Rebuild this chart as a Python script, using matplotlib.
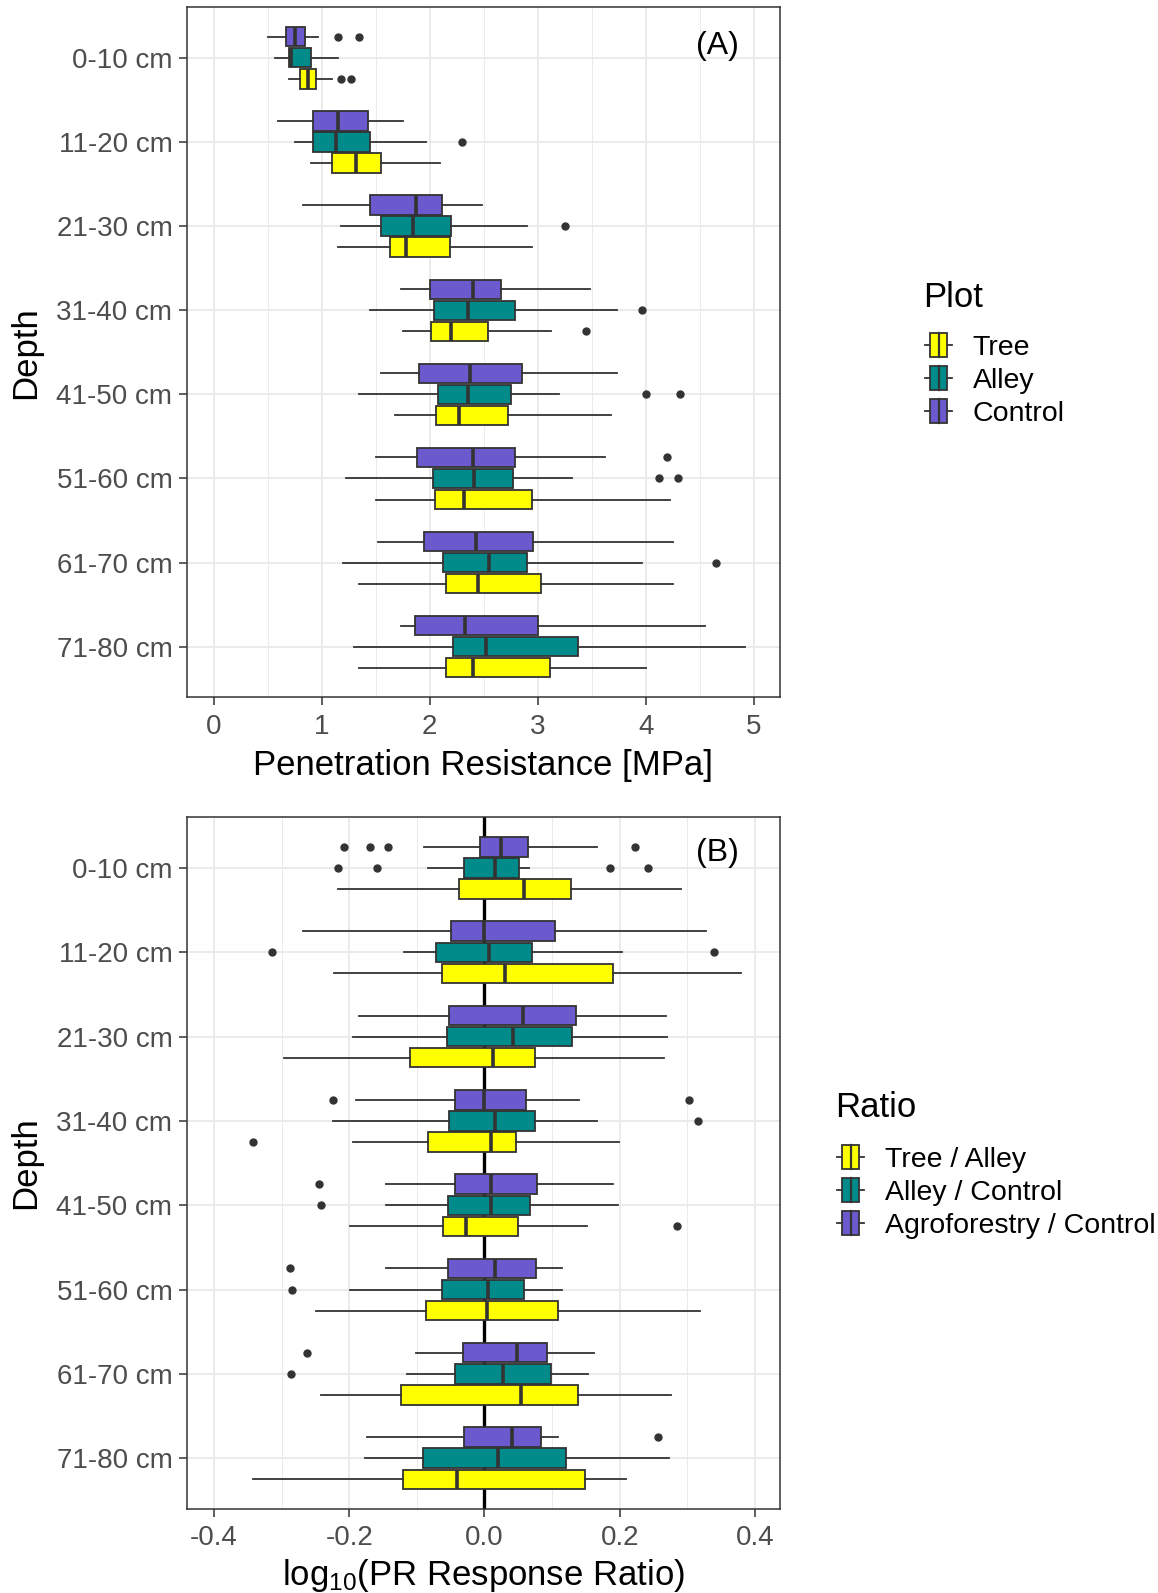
import matplotlib
matplotlib.use('Agg')
import matplotlib.pyplot as plt
from matplotlib.patches import Patch, Rectangle
from matplotlib.lines import Line2D
from matplotlib.legend_handler import HandlerBase

plt.rcParams['font.family'] = ['Liberation Sans', 'DejaVu Sans']
plt.rcParams['mathtext.fontset'] = 'custom'
plt.rcParams['mathtext.rm'] = 'Liberation Sans'
plt.rcParams['mathtext.it'] = 'Liberation Sans:italic'

# ---- data: [whisker low, Q1, median, Q3, whisker high] per depth ----
depths = ['0-10 cm', '11-20 cm', '21-30 cm', '31-40 cm',
          '41-50 cm', '51-60 cm', '61-70 cm', '71-80 cm']

plot_names = ['Tree', 'Alley', 'Control']
ratio_names = ['Tree / Alley', 'Alley / Control', 'Agroforestry / Control']

# Panel A: penetration resistance [MPa]
pr_tree = [[0.70, 0.80, 0.87, 0.95, 1.10],
           [0.90, 1.10, 1.32, 1.55, 2.10],
           [1.15, 1.63, 1.78, 2.19, 2.95],
           [1.75, 2.01, 2.20, 2.54, 3.12],
           [1.68, 2.06, 2.27, 2.72, 3.68],
           [1.50, 2.05, 2.32, 2.95, 4.22],
           [1.35, 2.15, 2.45, 3.03, 4.25],
           [1.35, 2.15, 2.40, 3.11, 4.00]]
pr_tree_out = [[1.18, 1.27], [], [], [3.45], [], [], [], []]

pr_alley = [[0.57, 0.70, 0.72, 0.90, 1.15],
            [0.75, 0.92, 1.13, 1.45, 1.97],
            [1.18, 1.55, 1.85, 2.20, 2.90],
            [1.45, 2.04, 2.35, 2.79, 3.73],
            [1.35, 2.08, 2.35, 2.75, 3.20],
            [1.23, 2.03, 2.41, 2.77, 3.32],
            [1.20, 2.12, 2.55, 2.90, 3.96],
            [1.30, 2.22, 2.52, 3.37, 4.92]]
pr_alley_out = [[], [2.30], [3.25], [3.96], [4.00, 4.32], [4.12, 4.30], [4.65], []]

pr_control = [[0.50, 0.67, 0.75, 0.85, 0.97],
              [0.60, 0.92, 1.15, 1.43, 1.75],
              [0.825, 1.45, 1.87, 2.11, 2.48],
              [1.73, 2.00, 2.40, 2.66, 3.48],
              [1.55, 1.90, 2.37, 2.85, 3.73],
              [1.50, 1.88, 2.40, 2.79, 3.62],
              [1.52, 1.95, 2.43, 2.96, 4.25],
              [1.73, 1.86, 2.33, 3.00, 4.55]]
pr_control_out = [[1.15, 1.35], [], [], [], [], [4.20], [], []]

# Panel B: log10 response ratios
rr_tree_alley = [[-0.216, -0.037, 0.058, 0.128, 0.291],
                 [-0.222, -0.063, 0.031, 0.190, 0.380],
                 [-0.296, -0.110, 0.012, 0.074, 0.265],
                 [-0.195, -0.083, 0.010, 0.046, 0.199],
                 [-0.199, -0.062, -0.027, 0.050, 0.152],
                 [-0.249, -0.086, 0.003, 0.109, 0.319],
                 [-0.242, -0.123, 0.054, 0.139, 0.276],
                 [-0.343, -0.121, -0.040, 0.149, 0.210]]
rr_tree_alley_out = [[], [], [], [-0.342], [0.285], [], [], []]

rr_alley_control = [[-0.084, -0.030, 0.015, 0.051, 0.066],
                    [-0.119, -0.072, 0.007, 0.070, 0.203],
                    [-0.195, -0.055, 0.042, 0.130, 0.270],
                    [-0.224, -0.052, 0.016, 0.075, 0.166],
                    [-0.146, -0.054, 0.010, 0.067, 0.198],
                    [-0.199, -0.063, 0.005, 0.059, 0.115],
                    [-0.115, -0.043, 0.028, 0.098, 0.153],
                    [-0.176, -0.091, 0.020, 0.121, 0.273]]
rr_alley_control_out = [[-0.217, -0.159, 0.186, 0.242], [-0.315, 0.340], [], [0.316],
                        [-0.242], [-0.285], [-0.286], []]

rr_agro_control = [[-0.090, -0.006, 0.024, 0.064, 0.166],
                   [-0.269, -0.049, 0.000, 0.104, 0.327],
                   [-0.186, -0.052, 0.057, 0.136, 0.269],
                   [-0.190, -0.044, -0.001, 0.061, 0.140],
                   [-0.145, -0.044, 0.010, 0.078, 0.190],
                   [-0.145, -0.054, 0.016, 0.076, 0.115],
                   [-0.102, -0.032, 0.048, 0.092, 0.162],
                   [-0.174, -0.030, 0.040, 0.083, 0.109]]
rr_agro_control_out = [[-0.208, -0.170, -0.143, 0.222], [], [], [-0.224, 0.303],
                       [-0.245], [-0.288], [-0.263], [0.256]]

colors = ['#FFFF00', '#008B8B', '#6A5ACD']
EDGE = '#333333'
GRID = '#EBEBEB'
TICKTXT = '#4D4D4D'


class BoxKey(HandlerBase):
    """ggplot-like boxplot legend key."""
    def create_artists(self, legend, orig_handle, xdescent, ydescent,
                       width, height, fontsize, trans):
        fc = orig_handle.get_facecolor()
        x0, y0 = -xdescent, -ydescent
        bw = width * 0.63
        bx = x0 + (width - bw) / 2
        cy = y0 + height / 2
        wl = Line2D([x0, bx], [cy, cy], color=EDGE, lw=1.3, transform=trans)
        wr = Line2D([bx + bw, x0 + width], [cy, cy], color=EDGE, lw=1.3, transform=trans)
        box = Rectangle((bx, y0), bw, height, facecolor=fc, edgecolor=EDGE,
                        lw=1.3, transform=trans)
        med = Line2D([bx + bw / 2] * 2, [y0, y0 + height], color=EDGE, lw=1.6,
                     transform=trans)
        return [wl, wr, box, med]


def draw_boxes(ax, series, outliers):
    n = len(depths)
    for k, (stats, outs) in enumerate(zip(series, outliers)):
        offset = (k - 1) * 0.25
        bstats = [dict(whislo=s[0], q1=s[1], med=s[2], q3=s[3], whishi=s[4], fliers=o)
                  for s, o in zip(stats, outs)]
        pos = [n - i + offset for i in range(n)]
        ax.bxp(bstats, positions=pos, widths=0.23, orientation='horizontal',
               patch_artist=True, showcaps=False, zorder=3,
               boxprops=dict(facecolor=colors[k], edgecolor=EDGE, linewidth=1.3),
               medianprops=dict(color=EDGE, linewidth=2.6, solid_capstyle='butt'),
               whiskerprops=dict(color=EDGE, linewidth=1.3),
               flierprops=dict(marker='o', markerfacecolor=EDGE, markeredgecolor=EDGE,
                               markersize=5))


def style_axis(ax, xticks, xminor, xlabels, xlim):
    n = len(depths)
    ax.set_xlim(*xlim)
    ax.set_ylim(0.4, n + 0.6)
    ax.set_yticks([n - i for i in range(n)], depths)
    ax.set_xticks(xticks, xlabels)
    ax.set_xticks(xminor, minor=True)
    ax.set_axisbelow(True)
    ax.grid(which='major', color=GRID, linewidth=1.4)
    ax.grid(which='minor', axis='x', color=GRID, linewidth=0.7)
    ax.tick_params(which='major', length=5.5, width=1.1, color=EDGE,
                   labelsize=20, labelcolor=TICKTXT, pad=5)
    ax.tick_params(axis='x', which='major', pad=6.5)
    ax.tick_params(which='minor', length=0)
    for sp in ax.spines.values():
        sp.set_color(EDGE)
        sp.set_linewidth(1.1)
    ax.set_ylabel('Depth', fontsize=25)
    ax.yaxis.set_label_coords(-0.245, 0.5)


fig = plt.figure(figsize=(11.58, 15.93), dpi=100)
axA = fig.add_axes([0.1615, 0.5623, 0.512, 0.4331])
axB = fig.add_axes([0.1615, 0.0529, 0.512, 0.434])

# Panel A
draw_boxes(axA, [pr_tree, pr_alley, pr_control],
           [pr_tree_out, pr_alley_out, pr_control_out])
style_axis(axA, [0, 1, 2, 3, 4, 5], [0.5, 1.5, 2.5, 3.5, 4.5],
           ['0', '1', '2', '3', '4', '5'], (-0.245, 5.24))
axA.set_xlabel('Penetration Resistance [MPa]', fontsize=25)
axA.xaxis.set_label_coords(0.5, -0.075)
axA.text(0.894, 0.944, '(A)', transform=axA.transAxes, ha='center', va='center',
         fontsize=23)

# Panel B
axB.axvline(0, color='black', linewidth=2.4, zorder=2.5)
draw_boxes(axB, [rr_tree_alley, rr_alley_control, rr_agro_control],
           [rr_tree_alley_out, rr_alley_control_out, rr_agro_control_out])
style_axis(axB, [-0.4, -0.2, 0.0, 0.2, 0.4], [-0.3, -0.1, 0.1, 0.3],
           ['-0.4', '-0.2', '0.0', '0.2', '0.4'], (-0.44, 0.437))
axB.set_xlabel(r'log$_{10}$(PR Response Ratio)', fontsize=25)
axB.xaxis.set_label_coords(0.5, -0.070)
axB.text(0.894, 0.948, '(B)', transform=axB.transAxes, ha='center', va='center',
         fontsize=23)

# Legends
legend_kw = dict(handler_map={Patch: BoxKey()}, loc='upper left', frameon=False,
                 fontsize=20.5, handlelength=0.95, handleheight=0.92, handletextpad=0.73,
                 labelspacing=0.18, borderpad=0, borderaxespad=0)

fig.text(0.797, 0.8075, 'Plot', fontsize=25, va='baseline', ha='left')
fig.legend([Patch(facecolor=c) for c in colors], plot_names,
           bbox_to_anchor=(0.7988, 0.791), **legend_kw)

fig.text(0.7211, 0.2990, 'Ratio', fontsize=25, va='baseline', ha='left')
fig.legend([Patch(facecolor=c) for c in colors], ratio_names,
           bbox_to_anchor=(0.723, 0.2812), **legend_kw)

fig.savefig('out.png', dpi=100)
